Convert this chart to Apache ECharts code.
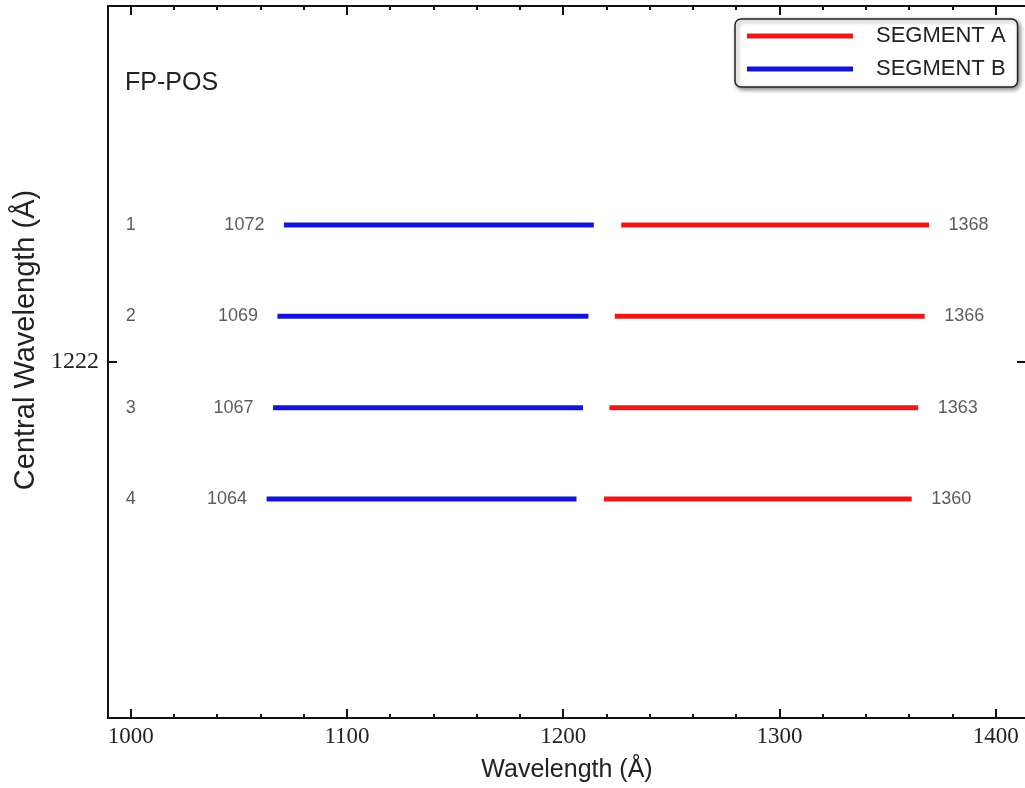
<!DOCTYPE html>
<html>
<head>
<meta charset="utf-8">
<script src="https://cdn.jsdelivr.net/npm/echarts@6/dist/echarts.min.js"></script>
<style>
  html, body { margin: 0; padding: 0; background: #fff; }
  #chart { width: 1025px; height: 788px; }
</style>
</head>
<body>
<div id="chart"></div>
<script>
// FP-POS rows and segment ranges (Å)
const fpPos = [1, 2, 3, 4];
const fpLabels = ['1', '2', '3', '4'];
const segBStart = [1072, 1069, 1067, 1064];
const segBEnd = [1213, 1210.5, 1208, 1205];
const segAStart = [1228, 1225, 1222.5, 1220];
const segAEnd = [1368, 1366, 1363, 1360];

const xMajorTicks = [1000, 1100, 1200, 1300, 1400];
const xMinorTicks = [1020, 1040, 1060, 1080, 1120, 1140, 1160, 1180,
  1220, 1240, 1260, 1280, 1320, 1340, 1360, 1380];
const yTickValues = [2.5];
const yTickLabels = ['1222'];

const RED = '#ec1818';
const BLUE = '#1414d6';
const AXIS = '#111';
const TEXT = '#222';
const SANS = 'Liberation Sans';
const SERIF = 'Liberation Serif';

const chart = echarts.init(document.getElementById('chart'));

const series = [];
fpPos.forEach((row, i) => {
  series.push({
    name: 'SEGMENT A',
    type: 'line',
    data: [[segAStart[i], row], [segAEnd[i], row]],
    symbol: 'none',
    lineStyle: { color: RED, width: 5, cap: 'square' },
    itemStyle: { color: RED },
    silent: true
  });
  series.push({
    name: 'SEGMENT B',
    type: 'line',
    data: [[segBStart[i], row], [segBEnd[i], row]],
    symbol: 'none',
    lineStyle: { color: BLUE, width: 5, cap: 'square' },
    itemStyle: { color: BLUE },
    silent: true
  });
});

const labelStyle = { show: true, fontFamily: SANS, fontSize: 18, color: '#333' };

// row numbers
series.push({
  name: 'rows',
  type: 'scatter',
  symbolSize: 0,
  silent: true,
  data: fpPos.map(r => [1000, r]),
  label: { ...labelStyle, position: 'inside', formatter: p => fpLabels[p.dataIndex] }
});
// segment B start values
series.push({
  name: 'startLabels',
  type: 'scatter',
  symbolSize: 0,
  silent: true,
  data: segBStart.map((v, i) => [v, fpPos[i]]),
  label: { ...labelStyle, position: 'left', distance: 22, formatter: p => String(segBStart[p.dataIndex]) }
});
// segment A end values
series.push({
  name: 'endLabels',
  type: 'scatter',
  symbolSize: 0,
  silent: true,
  data: segAEnd.map((v, i) => [v, fpPos[i]]),
  label: { ...labelStyle, position: 'right', distance: 22, formatter: p => String(segAEnd[p.dataIndex]) }
});

const xMin = 989.5, xMax = 1414;
const lineStyle = { color: AXIS, width: 2 };

const tickAxisX = (position, ticks, len, showLine) => ({
  type: 'value',
  position,
  min: xMin,
  max: xMax,
  axisLine: { show: showLine, onZero: false, lineStyle },
  axisTick: { show: true, inside: true, length: len, lineStyle, customValues: ticks },
  axisLabel: { show: false },
  splitLine: { show: false }
});

const option = {
  animation: false,
  backgroundColor: '#fff',
  title: {
    text: 'FP-POS',
    left: 125,
    top: 71,
    padding: 0,
    textStyle: { fontFamily: SANS, fontSize: 25, fontWeight: 'normal', color: TEXT }
  },
  legend: {
    data: ['SEGMENT A', 'SEGMENT B'],
    orient: 'vertical',
    left: 735,
    top: 19,
    icon: 'rect',
    itemWidth: 106,
    itemHeight: 5,
    itemGap: 11,
    padding: [6, 12, 7, 12],
    backgroundColor: '#fff',
    borderColor: '#222',
    borderWidth: 1.5,
    borderRadius: 6,
    shadowBlur: 4,
    shadowColor: 'rgba(0,0,0,0.45)',
    shadowOffsetX: 2,
    shadowOffsetY: 2,
    selectedMode: false,
    textStyle: { fontFamily: SANS, fontSize: 22, color: TEXT, lineHeight: 22, padding: [0, 0, 0, 18] }
  },
  grid: {
    left: 108,
    right: -1,
    top: 6,
    bottom: 70,
    outerBoundsMode: 'none'
  },
  xAxis: [
    {
      type: 'value',
      position: 'bottom',
      min: xMin,
      max: xMax,
      name: 'Wavelength (Å)',
      nameLocation: 'middle',
      nameGap: 40,
      nameTextStyle: { fontFamily: SANS, fontSize: 25, color: TEXT },
      axisLine: { show: true, onZero: false, lineStyle },
      axisTick: { show: true, inside: true, length: 9, lineStyle, customValues: xMajorTicks },
      axisLabel: {
        customValues: xMajorTicks,
        formatter: v => String(v),
        fontFamily: SERIF,
        fontSize: 23,
        color: TEXT,
        margin: 7
      },
      splitLine: { show: false }
    },
    tickAxisX('bottom', xMinorTicks, 4, false),
    tickAxisX('top', xMajorTicks, 9, true),
    tickAxisX('top', xMinorTicks, 4, false)
  ],
  yAxis: [
    {
      type: 'value',
      position: 'left',
      inverse: true,
      min: -1.4,
      max: 6.4,
      name: 'Central Wavelength (Å)',
      nameLocation: 'middle',
      nameGap: 66,
      nameTextStyle: { fontFamily: SANS, fontSize: 29, color: TEXT, padding: [0, 0, 0, 44] },
      axisLine: { show: true, onZero: false, lineStyle },
      axisTick: { show: true, inside: true, length: 9, lineStyle, customValues: yTickValues },
      axisLabel: {
        customValues: yTickValues,
        formatter: v => {
          const i = yTickValues.findIndex(t => Math.abs(t - v) < 1e-6);
          return i >= 0 ? yTickLabels[i] : '';
        },
        fontFamily: SERIF,
        fontSize: 24,
        color: TEXT,
        margin: 9
      },
      splitLine: { show: false }
    },
    {
      type: 'value',
      position: 'right',
      inverse: true,
      min: -1.4,
      max: 6.4,
      axisLine: { show: true, onZero: false, lineStyle },
      axisTick: { show: true, inside: true, length: 9, lineStyle, customValues: yTickValues },
      axisLabel: { show: false },
      splitLine: { show: false }
    }
  ],
  series: series
};

chart.setOption(option);
</script>
</body>
</html>
